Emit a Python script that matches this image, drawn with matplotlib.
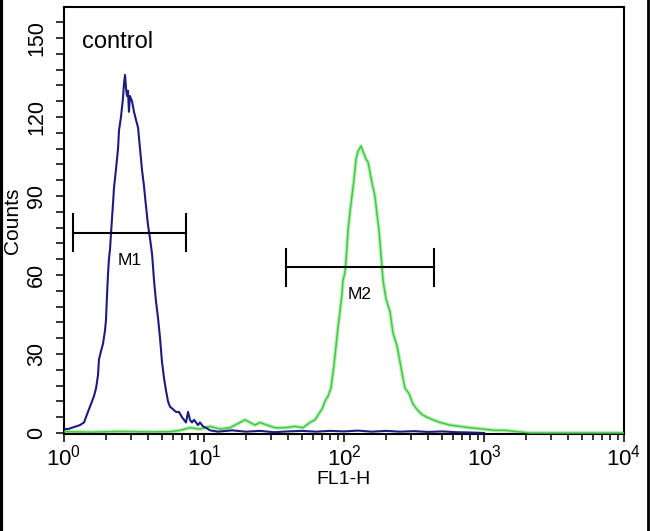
import matplotlib
matplotlib.use("Agg")
import matplotlib.pyplot as plt
from matplotlib.lines import Line2D
from matplotlib.ticker import MultipleLocator, LogLocator
import numpy as np

# ---- data (log10 of FL1-H channel, counts) ----
blue_log = [0.000, 0.029, 0.057, 0.086, 0.114, 0.143, 0.157, 0.171, 0.193, 0.214,
            0.229, 0.243, 0.250, 0.264, 0.279, 0.293, 0.300, 0.307, 0.314, 0.321,
            0.329, 0.336, 0.350, 0.357, 0.371, 0.386, 0.393, 0.407, 0.421, 0.429,
            0.436, 0.443, 0.450, 0.457, 0.464, 0.471, 0.486, 0.500, 0.514, 0.529,
            0.543, 0.557, 0.571, 0.586, 0.600, 0.614, 0.629, 0.643, 0.657, 0.671,
            0.686, 0.700, 0.714, 0.729, 0.743, 0.757, 0.779, 0.800, 0.821, 0.843,
            0.857, 0.871, 0.886, 0.900, 0.914, 0.929, 0.943, 0.957, 0.971, 0.993,
            1.014, 1.043, 1.10, 1.20, 1.30, 1.40, 1.50, 1.60, 1.70, 1.80,
            1.90, 2.00, 2.10, 2.20, 2.30, 2.40, 2.50, 2.60, 2.70, 2.80, 2.90, 3.00]
blue_cnt = [1.5, 1.5, 2, 2.5, 3, 4, 6, 8, 11, 14,
            17, 22, 28, 31, 34, 39, 43, 52, 60, 66,
            70, 76, 87, 93, 100, 108, 115, 120, 127, 133,
            136, 131, 128, 130, 122, 128, 126, 122, 119, 116,
            108, 100, 94, 86, 79, 74, 68, 58, 50, 44,
            36, 27, 21, 16, 12, 10, 9, 8, 8, 6,
            5, 4, 8, 5, 4, 5, 4, 3, 4, 2.5,
            2, 1, 0.5, 1, 0.5, 0.8, 0.3, 0.6, 0.8, 0.5,
            0.8, 0.6, 0.9, 0.5, 0.8, 0.5, 0.7, 0.4, 0.6, 0.3, 0.2, 0]

green_log = [0.000, 0.20, 0.40, 0.60, 0.757, 0.829, 0.900, 0.971, 1.043, 1.114,
             1.186, 1.257, 1.293, 1.329, 1.364, 1.400, 1.450, 1.507, 1.579, 1.650,
             1.707, 1.757, 1.793, 1.829, 1.843, 1.864, 1.886, 1.907, 1.929, 1.943,
             1.957, 1.971, 1.986, 1.993, 2.007, 2.014, 2.029, 2.043, 2.057, 2.071,
             2.086, 2.100, 2.121, 2.143, 2.157, 2.171, 2.186, 2.200, 2.221, 2.236,
             2.250, 2.264, 2.279, 2.300, 2.329, 2.350, 2.379, 2.400, 2.421, 2.436,
             2.464, 2.493, 2.521, 2.557, 2.593, 2.636, 2.686, 2.757, 2.829, 2.900,
             2.993, 3.079, 3.150, 3.236, 3.329, 3.60, 4.00]
green_cnt = [0.5, 0.3, 0.6, 0.4, 0.5, 1, 2, 1.5, 2.5, 1.5,
             2, 4, 5, 4, 3, 4, 3, 2, 2, 2.5,
             2, 4, 5, 8, 9, 12, 14, 17, 26, 33,
             40, 46, 53, 58, 61, 65, 77, 84, 90, 96,
             104, 107, 109, 106, 104, 103, 99, 95, 90, 83,
             77, 68, 58, 51, 46, 38, 33, 27, 21, 17,
             15, 11, 9, 7, 6, 5, 4, 3, 2.5, 2,
             1.5, 1, 1, 0.5, 0, 0, 0]

marker_names = ["M1", "M2"]
marker_lo = [1.16, 38.5]
marker_hi = [7.43, 439.0]
marker_y = [76, 63]

yticks = [0, 30, 60, 90, 120, 150]

# ---- figure ----
plt.rcParams['font.family'] = ['Liberation Sans Narrow', 'Liberation Sans', 'DejaVu Sans']
fig = plt.figure(figsize=(6.5, 5.31), dpi=100)
ax = fig.add_axes([0.09846, 0.1821, 0.8615, 0.8047])

bx = 10 ** np.array(blue_log)
gx = 10 ** np.array(green_log)
ax.plot(gx, green_cnt, color='#b8f0b8', lw=2.8, zorder=2)
ax.plot(gx, green_cnt, color='#46c846', lw=1.1, zorder=3)
ax.plot(bx, blue_cnt, color='#1c1c80', lw=1.5, zorder=4)

for name, lo, hi, y in zip(marker_names, marker_lo, marker_hi, marker_y):
    ax.plot([lo, hi], [y, y], color='black', lw=1.5, zorder=5)
    ax.plot([lo, lo], [y - 7, y + 7], color='black', lw=1.5, zorder=5)
    ax.plot([hi, hi], [y - 7, y + 7], color='black', lw=1.5, zorder=5)
    xc = np.sqrt(lo * hi)
    ax.text(xc, y - 10.5, name, ha='center', va='center', fontsize=12.5,
            family=['Liberation Sans', 'DejaVu Sans'], zorder=6)

ax.text(0.032, 0.917, "control", transform=ax.transAxes, ha='left', va='center',
        fontsize=17, family=['Liberation Sans', 'DejaVu Sans'])

ax.set_xscale('log')
ax.set_xlim(1, 1e4)
ax.set_ylim(-0.5, 161.8)
ax.set_yticks(yticks)
ax.yaxis.set_minor_locator(MultipleLocator(6))
ax.xaxis.set_major_locator(LogLocator(base=10, numticks=10))
ax.xaxis.set_minor_locator(LogLocator(base=10, subs=np.arange(2, 10), numticks=20))

ax.tick_params(axis='y', which='major', direction='out', length=6, width=1.1,
               labelsize=15.5, pad=6, labelrotation=90)
ax.tick_params(axis='y', which='minor', direction='out', length=6, width=1.1)
ax.tick_params(axis='x', which='major', direction='out', length=5.5, width=1.1,
               labelsize=16, pad=2)
ax.tick_params(axis='x', which='minor', direction='out', length=4, width=1.1)
for lab in ax.get_yticklabels():
    lab.set_va('center')

ax.set_ylabel("Counts", fontsize=15, family=['Liberation Sans', 'DejaVu Sans'], labelpad=3)
ax.set_xlabel("FL1-H", fontsize=14, family=['Liberation Sans', 'DejaVu Sans'], labelpad=0)

for s in ax.spines.values():
    s.set_linewidth(1.5)
    s.set_color('black')

# outer image border lines
fig.add_artist(Line2D([0.002, 0.002], [0, 1], transform=fig.transFigure, color='black', lw=3))
fig.add_artist(Line2D([0.997, 0.997], [0, 1], transform=fig.transFigure, color='black', lw=2))

fig.savefig("out.png", dpi=100)
